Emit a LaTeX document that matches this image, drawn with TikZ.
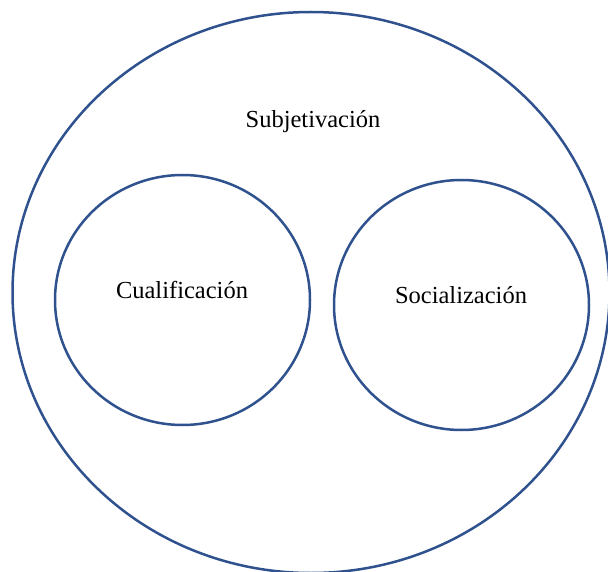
\documentclass[tikz,border=0pt]{standalone}
\usepackage{fontspec}
\setmainfont{Liberation Serif}
\usetikzlibrary{shapes.geometric}
\definecolor{ringblue}{HTML}{2F528F}
\tikzset{
  ring/.style={ellipse, draw=ringblue, line width=2.5pt, inner sep=0pt},
  label/.style={font=\fontsize{24.5}{29}\selectfont, text=black, inner sep=0pt}
}
\begin{document}
\begin{tikzpicture}[x=1pt,y=-1pt]
  \useasboundingbox (0,0) rectangle (608,572);
  \clip (0,0) rectangle (608,572);
  % outer set
  \node[ring, minimum width=597pt, minimum height=561pt] (outer) at (311,292.5) {};
  % inner sets
  \node[ring, minimum width=255pt, minimum height=250pt] (left) at (182.5,300) {};
  \node[ring, minimum width=255pt, minimum height=250pt] (right) at (461.5,305) {};
  % labels
  \node[label] (subj) at (313,122) {Subjetivación};
  \node[label] (cual) at (182,290) {Cualificación};
  \node[label] (soc) at (461,295) {Socialización};
\end{tikzpicture}
\end{document}
